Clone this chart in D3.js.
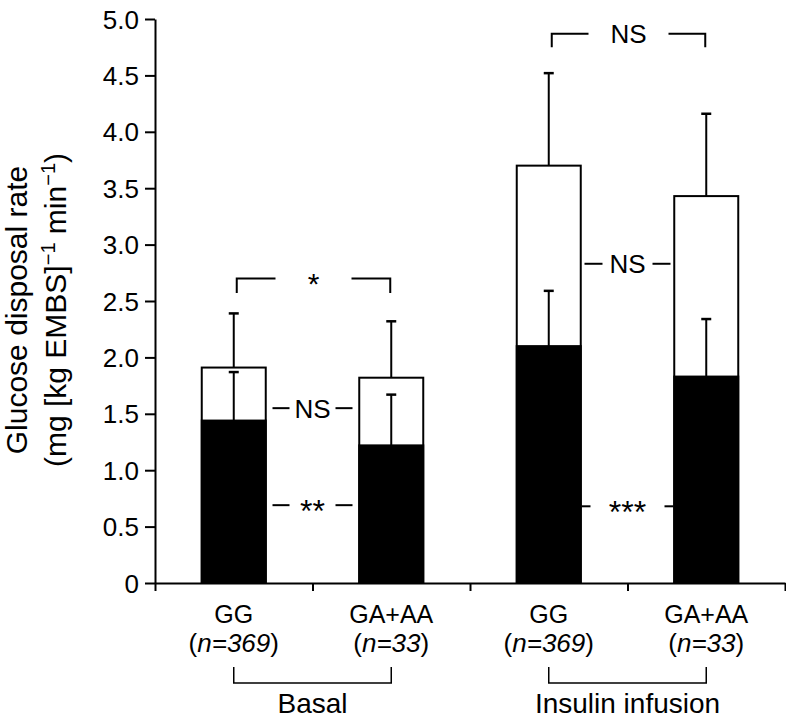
<!DOCTYPE html>
<html>
<head>
<meta charset="utf-8">
<script src="https://cdn.jsdelivr.net/npm/d3@7/dist/d3.min.js"></script>
<style>
  html, body { margin: 0; padding: 0; background: #fff; }
  svg text { font-family: "Liberation Sans", Arial, Helvetica, sans-serif; fill: #000; }
</style>
</head>
<body>
<svg id="chart" width="786" height="722"></svg>
<script>
// ---- data ----
const categories = ["GG", "GA+AA", "GG", "GA+AA"];
const sampleSizes = ["369", "33", "369", "33"];
const groups = ["Basal", "Insulin infusion"];
const groupMembers = [[0, 1], [2, 3]];
const totalValues = [1.91, 1.82, 3.70, 3.43];   // white (total) bars
const totalSD = [0.48, 0.50, 0.82, 0.73];
const blackValues = [1.44, 1.22, 2.10, 1.83];   // black (inner) bars
const blackSD = [0.43, 0.45, 0.49, 0.51];
const yTicks = [0, 0.5, 1.0, 1.5, 2.0, 2.5, 3.0, 3.5, 4.0, 4.5, 5.0];
// between-genotype comparisons (bracket above bars)
const topBrackets = [
  { a: 0, b: 1, y: 2.70, drop: 0.13, label: "*" },
  { a: 2, b: 3, y: 4.87, drop: 0.12, label: "NS" }
];
// side-by-side comparisons (dashed label between bars)
const sideLabels = [
  { a: 0, b: 1, y: 1.55, label: "NS" },
  { a: 0, b: 1, y: 0.69, label: "**" },
  { a: 2, b: 3, y: 2.83, label: "NS" },
  { a: 2, b: 3, y: 0.68, label: "***" }
];

// ---- layout ----
const svg = d3.select("#chart");
const X0 = 155, X1 = 785, Y0 = 583, Y1 = 19;
const barW = 64;
const FS = 25;

const y = d3.scaleLinear().domain([0, 5]).range([Y0, Y1]);
const xEdge = d3.scaleLinear().domain([0, 4]).range([X0, X1]);
const xc = i => xEdge(i + 0.5);

// axes
const yAxis = d3.axisLeft(y).tickValues(yTicks).tickSize(10).tickSizeOuter(0).tickPadding(6)
  .tickFormat(d => d === 0 ? "0" : d3.format(".1f")(d));
const gy = svg.append("g").attr("transform", `translate(${X0},0)`).call(yAxis);
gy.selectAll("text").style("font-size", "26px").attr("dy", "0.35em");
gy.selectAll("line, path").attr("stroke", "#000").attr("stroke-width", 2);

const xAxis = d3.axisBottom(xEdge).tickValues([0, 1, 2, 3, 4]).tickSize(8).tickSizeOuter(0).tickFormat("");
const gx = svg.append("g").attr("transform", `translate(0,${Y0})`).call(xAxis);
gx.selectAll("line, path").attr("stroke", "#000").attr("stroke-width", 2);

// bars
const idx = d3.range(categories.length);
const gBars = svg.append("g");
// white total bars
gBars.selectAll("rect.total").data(idx).join("rect")
  .attr("x", i => xc(i) - barW / 2).attr("width", barW)
  .attr("y", i => y(totalValues[i])).attr("height", i => y(0) - y(totalValues[i]))
  .attr("fill", "#fff").attr("stroke", "#000").attr("stroke-width", 2);
// black bars
gBars.selectAll("rect.black").data(idx).join("rect")
  .attr("x", i => xc(i) - barW / 2).attr("width", barW)
  .attr("y", i => y(blackValues[i])).attr("height", i => y(0) - y(blackValues[i]))
  .attr("fill", "#000").attr("stroke", "#000").attr("stroke-width", 2);

// error bars
function errBar(vals, sds) {
  const g = svg.append("g").attr("stroke", "#000").attr("stroke-width", 2);
  idx.forEach(i => {
    const top = y(vals[i] + sds[i]);
    g.append("line").attr("x1", xc(i)).attr("x2", xc(i)).attr("y1", y(vals[i])).attr("y2", top);
    g.append("line").attr("x1", xc(i) - 5).attr("x2", xc(i) + 5).attr("y1", top).attr("y2", top).attr("stroke-width", 2.5);
  });
}
errBar(totalValues, totalSD);
errBar(blackValues, blackSD);

// top brackets
topBrackets.forEach(b => {
  const xa = xc(b.a) + 3, xb = xc(b.b) - 1, yy = y(b.y), yd = y(b.y - b.drop);
  const mid = (xa + xb) / 2;
  const gap = b.label === "NS" ? 40 : 38;
  const g = svg.append("g").attr("stroke", "#000").attr("stroke-width", 2).attr("fill", "none");
  g.append("path").attr("d", `M${xa},${yd}V${yy}H${mid - gap}`);
  g.append("path").attr("d", `M${mid + gap},${yy}H${xb}V${yd}`);
  const t = svg.append("text").attr("x", mid).attr("text-anchor", "middle").text(b.label);
  if (b.label.startsWith("*")) {
    t.attr("y", yy + 16).style("font-size", "30px");
  } else {
    t.attr("y", yy).attr("dy", "0.36em").style("font-size", "26px");
  }
});

// side labels
sideLabels.forEach(s => {
  const right = xc(s.a) + barW / 2, left = xc(s.b) - barW / 2;
  const mid = (right + left) / 2, yy = y(s.y);
  const isStar = s.label.startsWith("*");
  let inner, outer;
  if (s.label === "***") { inner = 37; outer = 46; }
  else if (s.a === 0) { inner = 23; outer = 40; }
  else { inner = 25; outer = 43; }
  const g = svg.append("g").attr("stroke", "#000").attr("stroke-width", 2);
  g.append("line").attr("x1", mid - outer).attr("x2", mid - inner).attr("y1", yy).attr("y2", yy);
  g.append("line").attr("x1", mid + inner).attr("x2", mid + outer).attr("y1", yy).attr("y2", yy);
  const t = svg.append("text").attr("x", mid).attr("text-anchor", "middle").text(s.label);
  if (isStar) t.attr("y", yy + 17).style("font-size", "32px");
  else t.attr("y", yy).attr("dy", "0.36em").style("font-size", "26px");
});

// category labels
idx.forEach(i => {
  svg.append("text").attr("x", xc(i)).attr("y", 623).attr("text-anchor", "middle")
    .style("font-size", FS + "px").text(categories[i]);
  const t = svg.append("text").attr("x", xc(i)).attr("y", 652).attr("text-anchor", "middle")
    .style("font-size", "26px");
  t.append("tspan").text("(");
  t.append("tspan").style("font-style", "italic").text("n=" + sampleSizes[i]);
  t.append("tspan").text(")");
});

// group brackets and labels
groups.forEach((gname, k) => {
  const [a, b] = groupMembers[k];
  const xa = xc(a), xb = xc(b);
  svg.append("path").attr("d", `M${xa},667V683H${xb}V667`)
    .attr("fill", "none").attr("stroke", "#000").attr("stroke-width", 1.5);
  svg.append("text").attr("x", (xa + xb) / 2).attr("y", 713).attr("text-anchor", "middle")
    .style("font-size", "28px").text(gname);
});

// y-axis title
const yt = svg.append("text").attr("transform", `translate(0,310) rotate(-90)`)
  .attr("text-anchor", "middle").style("font-size", "30px");
yt.append("tspan").attr("x", 0).attr("y", 27).text("Glucose disposal rate");
const l2 = yt.append("tspan").attr("x", 0).attr("y", 66);
l2.append("tspan").text("(mg [kg EMBS]");
l2.append("tspan").attr("dy", -11).style("font-size", "20px").text("−1");
l2.append("tspan").attr("dy", 11).text(" min");
l2.append("tspan").attr("dy", -11).style("font-size", "20px").text("−1");
l2.append("tspan").attr("dy", 11).text(")");
</script>
</body>
</html>
